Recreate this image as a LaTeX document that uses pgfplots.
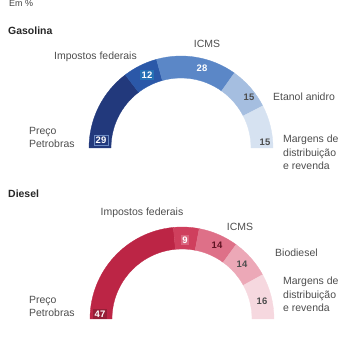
\documentclass[border=0pt]{standalone}
\usepackage{fontspec}
\setmainfont{Liberation Sans}
\usepackage{pgfplots}
\usepackage{pgfplotstable}
\pgfplotsset{compat=1.18}

\definecolor{gas0}{HTML}{22397C}
\definecolor{gas1}{HTML}{2B58A8}
\definecolor{gas2}{HTML}{5B87C7}
\definecolor{gas3}{HTML}{A5BEE0}
\definecolor{gas4}{HTML}{D6E2F1}
\definecolor{die0}{HTML}{BC2545}
\definecolor{die1}{HTML}{CF3F5D}
\definecolor{die2}{HTML}{DE7088}
\definecolor{die3}{HTML}{ECA8B7}
\definecolor{die4}{HTML}{F6D8DF}
\definecolor{txt}{HTML}{4D4D4D}

\pgfplotstableread{
part value
Petrobras 29
Federais 12
ICMS 28
Etanol 15
Margens 15
}\gasdata
\pgfplotstableread{
part value
Petrobras 47
Federais 9
ICMS 14
Biodiesel 14
Margens 16
}\diedata

\newcommand\donut[6]{%
  \pgfplotstablegetrowsof{#1}%
  \pgfmathtruncatemacro\nlast{\pgfplotsretval-1}%
  \def\tot{0}%
  \pgfplotsforeachungrouped \i in {0,...,\nlast}{%
    \pgfplotstablegetelem{\i}{value}\of{#1}%
    \pgfmathsetmacro\tot{\tot+\pgfplotsretval}%
  }%
  \def\cum{0}%
  \pgfplotsforeachungrouped \i in {0,...,\nlast}{%
    \pgfplotstablegetelem{\i}{value}\of{#1}%
    \pgfmathsetmacro\angA{180-(\cum/\tot)*180}%
    \pgfmathsetmacro\cum{\cum+\pgfplotsretval}%
    \pgfmathsetmacro\angB{180-(\cum/\tot)*180}%
    \pgfmathsetmacro\xa{#2+#4*cos(\angA)}%
    \pgfmathsetmacro\ya{#3+#4*sin(\angA)}%
    \pgfmathsetmacro\xb{#2+#5*cos(\angB)}%
    \pgfmathsetmacro\yb{#3+#5*sin(\angB)}%
    \edef\temp{\noexpand\addplot[fill=#6\i, draw=#6\i, line width=0.3bp, forget plot] coordinates {(\xa,\ya)} arc[start angle=\angA, end angle=\angB, radius=#4bp] -- (axis cs:\xb,\yb) arc[start angle=\angB, end angle=\angA, radius=#5bp] -- cycle;}%
    \temp
  }%
}

\tikzset{
  lab/.style={font=\fontsize{10.5}{13.5}\selectfont, text=txt, inner sep=0pt},
  num/.style={font=\fontsize{9.5}{11}\selectfont\bfseries, inner sep=1.5pt},
  ttl/.style={font=\fontsize{10.5}{12}\selectfont\bfseries, text=black!85, inner sep=0pt, anchor=west},
}

\begin{document}
\begin{tikzpicture}
\begin{axis}[
  scale only axis, width=355bp, height=338bp,
  xmin=0, xmax=355, ymin=0, ymax=338,
  enlargelimits=false,
  hide axis, clip=false,
]
\donut{\gasdata}{181}{190}{92}{70}{gas}
\donut{\diedata}{182}{19}{92}{70}{die}

% headings
\node[inner sep=0pt, anchor=north west, text=black!75, font=\fontsize{9}{10}\selectfont] at (axis cs:9,337.5) {Em \%};
\node[ttl] at (axis cs:8,307) {Gasolina};
\node[ttl] at (axis cs:8,144) {Diesel};

% gasoline labels
\node[lab, anchor=east] at (axis cs:137,281) {Impostos federais};
\node[lab] at (axis cs:207,294) {ICMS};
\node[lab, anchor=west] at (axis cs:273,241) {Etanol anidro};
\node[lab, anchor=north west, align=left] at (axis cs:283,203) {Margens de\\distribuição\\e revenda};
\node[lab, anchor=north west, align=left] at (axis cs:29,211) {Preço\\Petrobras};
\node[num, text=white, fill=gas0, draw=gas1!70, line width=0.4bp] at (axis cs:101,198) {29};
\node[num, text=white, fill=gas1!85!cyan, line width=0.4bp] at (axis cs:147,263) {12};
\node[num, text=white] at (axis cs:202,270) {28};
\node[num, text=txt] at (axis cs:249,241) {15};
\node[num, text=txt] at (axis cs:265,196) {15};

% diesel labels
\node[lab] at (axis cs:142,125) {Impostos federais};
\node[lab] at (axis cs:240,111) {ICMS};
\node[lab, anchor=west] at (axis cs:275,85) {Biodiesel};
\node[lab, anchor=north west, align=left] at (axis cs:283,61) {Margens de\\distribuição\\e revenda};
\node[lab, anchor=north west, align=left] at (axis cs:29,42) {Preço\\Petrobras};
\node[num, text=white, fill=die0!80!black, line width=0.4bp] at (axis cs:100,24) {47};
\node[num, text=white, fill=die1!80!white] at (axis cs:185,98) {9};
\node[num, text=die0!50!black] at (axis cs:217,93) {14};
\node[num, text=txt] at (axis cs:242,74) {14};
\node[num, text=txt] at (axis cs:262,37) {16};
\end{axis}
\pgfresetboundingbox
\path (current axis.south west) rectangle (current axis.north east);
\end{tikzpicture}
\end{document}
